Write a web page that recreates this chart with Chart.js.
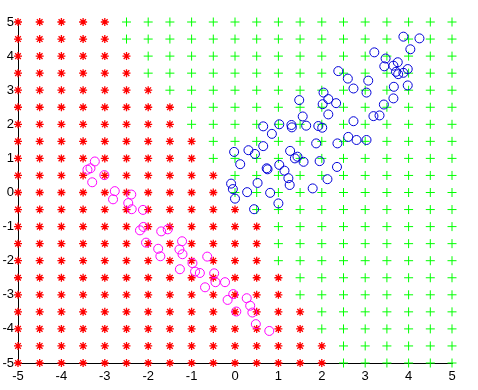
<!DOCTYPE html>
<html>
<head>
<meta charset="utf-8">
<script src="https://cdn.jsdelivr.net/npm/chart.js@4/dist/chart.umd.min.js"></script>
<style>
  html, body { margin: 0; padding: 0; background: #fff; }
  #wrap { width: 478px; height: 390px; position: relative; }
</style>
</head>
<body>
<div id="wrap"><canvas id="chart"></canvas></div>
<script>
// grid lattice (same values on both axes)
const gridValues = [-5, -4.5, -4, -3.5, -3, -2.5, -2, -1.5, -1, -0.5, 0, 0.5, 1, 1.5, 2, 2.5, 3, 3.5, 4, 4.5, 5];
// for each grid row (y, same order as gridValues) the largest x still classed red
const redLimit = [2, 2, 1.5, 1.5, 1, 1, 0.5, 0.5, 0.5, 0, -0.5, -0.5, -1, -1, -1.5, -1.5, -2, -2.5, -2.5, -3, -3];

const tickValues = [-5, -4, -3, -2, -1, 0, 1, 2, 3, 4, 5];

// class 1 samples (blue circles)
const blueX = [3.88, 4.25, 4.04, 3.21, 3.47, 3.44, 3.65, 3.75, 3.71, 3.88, 3.98, 3.76,
  2.38, 2.60, 3.07, 2.73, 3.03, 3.66, 3.98, 2.04, 2.15, 2.02, 1.48, 2.33, 3.65, 3.43,
  2.15, 1.56, 3.19, 3.33, 2.73, 0.65, 1.02, 1.30, 1.31, 1.64, 1.92, 2.01, 0.85, 2.61,
  2.80, 3.03, 1.87, 2.36, 0.65, -0.02, 0.31, 0.46, 1.27, 1.38, 1.44, 1.58, 1.95, 0.12,
  0.73, 0.75, 1.02, 1.14, 2.35, 1.23, 1.26, 2.13, 0.52, -0.09, 0.28, 0.81, 1.79, -0.05,
  0.00, 1.00, 0.44];
const blueY = [4.57, 4.52, 4.20, 4.11, 3.93, 3.70, 3.72, 3.82, 3.54, 3.51, 3.62, 3.47,
  3.56, 3.34, 3.28, 3.05, 2.93, 3.10, 3.14, 2.93, 2.74, 2.59, 2.71, 2.62, 2.76, 2.58,
  2.29, 2.23, 2.24, 2.26, 2.09, 1.94, 2.00, 1.98, 1.91, 1.96, 1.95, 1.90, 1.72, 1.63,
  1.54, 1.54, 1.44, 1.44, 1.36, 1.19, 1.24, 1.13, 1.22, 1.00, 1.05, 0.90, 0.92, 0.83,
  0.71, 0.68, 0.81, 0.64, 0.75, 0.42, 0.22, 0.39, 0.28, 0.26, 0.01, -0.01, 0.12, 0.10,
  -0.18, -0.32, -0.49];

// class 2 samples (magenta circles)
const magentaX = [-3.23, -3.40, -3.33, -3.01, -3.29, -2.77, -2.39, -2.81, -2.46, -2.38,
  -2.12, -2.19, -2.11, -1.70, -1.55, -2.05, -1.77, -1.72, -1.22, -1.28, -1.21, -1.27,
  -0.98, -0.92, -0.81, -0.64, -0.69, -0.48, -0.45, -0.23, -0.17, -0.04, 0.03, 0.27,
  0.35, 0.40, 0.48, 0.79];
const magentaY = [0.91, 0.67, 0.71, 0.51, 0.30, 0.04, -0.06, -0.20, -0.31, -0.49,
  -0.51, -1.11, -1.01, -1.14, -1.08, -1.47, -1.65, -1.87, -1.43, -1.67, -1.81, -2.25,
  -2.07, -2.32, -2.36, -1.88, -2.78, -2.37, -2.63, -2.63, -3.15, -2.98, -3.49, -3.10,
  -3.32, -3.52, -3.86, -4.06];

const redPts = [], greenPts = [];
gridValues.forEach((y, r) => {
  gridValues.forEach(x => {
    if (x <= redLimit[r]) redPts.push({ x, y });
    else greenPts.push({ x, y });
  });
});
const bluePts = blueX.map((x, i) => ({ x, y: blueY[i] }));
const magentaPts = magentaX.map((x, i) => ({ x, y: magentaY[i] }));

const FONT = { family: 'Liberation Sans, Arial, sans-serif', size: 13 };

new Chart(document.getElementById('chart'), {
  type: 'scatter',
  data: {
    datasets: [
      { data: bluePts, order: 0, pointStyle: 'circle', pointRadius: 4.5, borderColor: '#0000d8', backgroundColor: 'rgba(0,0,0,0)', borderWidth: 1, clip: false },
      { data: magentaPts, order: 0, pointStyle: 'circle', pointRadius: 4.5, borderColor: '#ff00ff', backgroundColor: 'rgba(0,0,0,0)', borderWidth: 1, clip: false },
      { data: redPts, order: 1, pointStyle: 'star', pointRadius: 4, borderColor: '#ff0000', borderWidth: 1.3, clip: false },
      { data: greenPts, order: 1, pointStyle: 'cross', pointRadius: 4.5, borderColor: '#00ff00', borderWidth: 1, clip: false },
    ],
  },
  options: {
    responsive: true,
    maintainAspectRatio: false,
    animation: false,
    events: [],
    layout: { padding: { top: 22, right: 26, left: 0, bottom: 0 } },
    plugins: { legend: { display: false }, tooltip: { enabled: false } },
    scales: {
      x: {
        type: 'linear', min: -5, max: 5,
        afterFit: (s) => { s.height = 27; },
        afterBuildTicks: (s) => { s.ticks = tickValues.map(v => ({ value: v })); },
        grid: { display: false, drawTicks: false },
        border: { display: true, color: '#000', width: 1 },
        ticks: { color: '#000', font: FONT, padding: 6, maxRotation: 0, autoSkip: false },
      },
      y: {
        type: 'linear', min: -5, max: 5,
        afterFit: (s) => { s.width = 18; },
        afterBuildTicks: (s) => { s.ticks = tickValues.map(v => ({ value: v })); },
        grid: { display: false, drawTicks: false },
        border: { display: true, color: '#000', width: 1 },
        ticks: { color: '#000', font: FONT, padding: 4, autoSkip: false },
      },
    },
  },
});
</script>
</body>
</html>
